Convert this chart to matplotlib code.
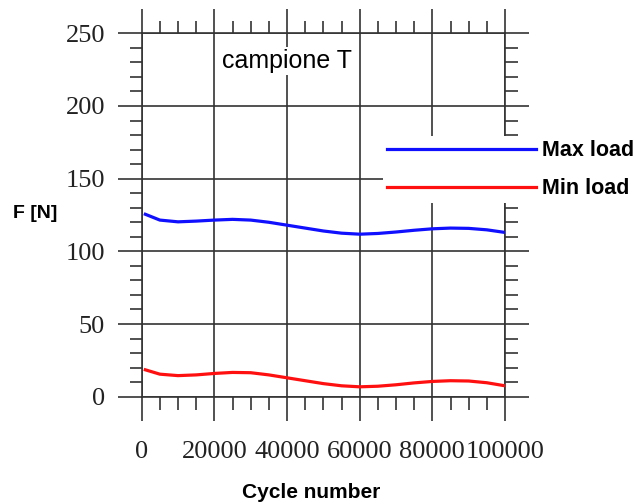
import matplotlib
matplotlib.use("Agg")
from matplotlib import pyplot as plt
from matplotlib.ticker import MultipleLocator

# Data
cycles = [1000, 5000, 10000, 15000, 20000, 25000, 30000, 35000, 40000, 45000, 50000,
          55000, 60000, 65000, 70000, 75000, 80000, 85000, 90000, 95000, 100000]
max_load = [125.5, 121.5, 120.3, 120.8, 121.5, 122.0, 121.5, 120.0, 118.0, 116.0, 114.0,
            112.5, 111.8, 112.3, 113.3, 114.5, 115.5, 116.0, 115.8, 114.8, 113.0]
min_load = [18.5, 15.5, 14.5, 15.0, 16.0, 16.7, 16.5, 15.0, 13.0, 11.0, 9.0,
            7.5, 6.8, 7.2, 8.2, 9.5, 10.5, 11.0, 10.8, 9.6, 7.5]

grid_color = '#333333'
line_w = 1.2

fig = plt.figure(figsize=(6.44, 5.04), dpi=100)
ax = fig.add_axes([141.7 / 644, 1 - 396.7 / 504, 363.3 / 644, 363.4 / 504])

ax.plot(cycles, max_load, color='#1010ff', linewidth=2.3, label='Max load', zorder=3)
ax.plot(cycles, min_load, color='#ff1010', linewidth=2.3, label='Min load', zorder=3)

ax.set_xlim(0, 100000)
ax.set_ylim(0, 250)
ax.xaxis.set_major_locator(MultipleLocator(20000))
ax.xaxis.set_minor_locator(MultipleLocator(5000))
ax.yaxis.set_major_locator(MultipleLocator(50))
ax.yaxis.set_minor_locator(MultipleLocator(10))

ax.grid(True, which='major', color=grid_color, linewidth=line_w)
for s in ax.spines.values():
    s.set_color(grid_color)
    s.set_linewidth(line_w)

ax.tick_params(which='both', direction='out', top=True, right=True,
               color=grid_color, width=line_w)
ax.tick_params(which='major', length=17.5)
ax.tick_params(which='minor', length=9)
ax.tick_params(axis='x', which='major', pad=14.5)
ax.tick_params(axis='y', which='major', pad=9)
for lab in ax.get_xticklabels() + ax.get_yticklabels():
    lab.set_family('Liberation Serif')
    lab.set_fontsize(19)
    lab.set_color('#222222')

ax.text(40000, 231, 'campione T', ha='center', va='center', fontsize=18,
        family='Liberation Sans', zorder=4,
        bbox=dict(facecolor='white', edgecolor='none', pad=1.5))

leg = ax.legend(loc='upper left', bbox_to_anchor=(383 / 644, 1 - 136 / 504),
                bbox_transform=fig.transFigure, borderaxespad=0, borderpad=0.2,
                handlelength=6.9, handletextpad=0.3, labelspacing=0.78,
                prop={'family': 'Liberation Sans', 'weight': 'bold', 'size': 15.5},
                frameon=True, fancybox=False, framealpha=1)
leg.get_frame().set_facecolor('white')
leg.get_frame().set_edgecolor('none')
leg.set_zorder(10)

fig.text(13 / 644, 1 - 213 / 504, 'F [N]', ha='left', va='center', fontsize=14,
         fontweight='bold', family='Liberation Sans')
fig.text(311 / 644, 1 - 492 / 504, 'Cycle number', ha='center', va='center',
         fontsize=15, fontweight='bold', family='Liberation Sans')

fig.savefig('out.png', dpi=100)
